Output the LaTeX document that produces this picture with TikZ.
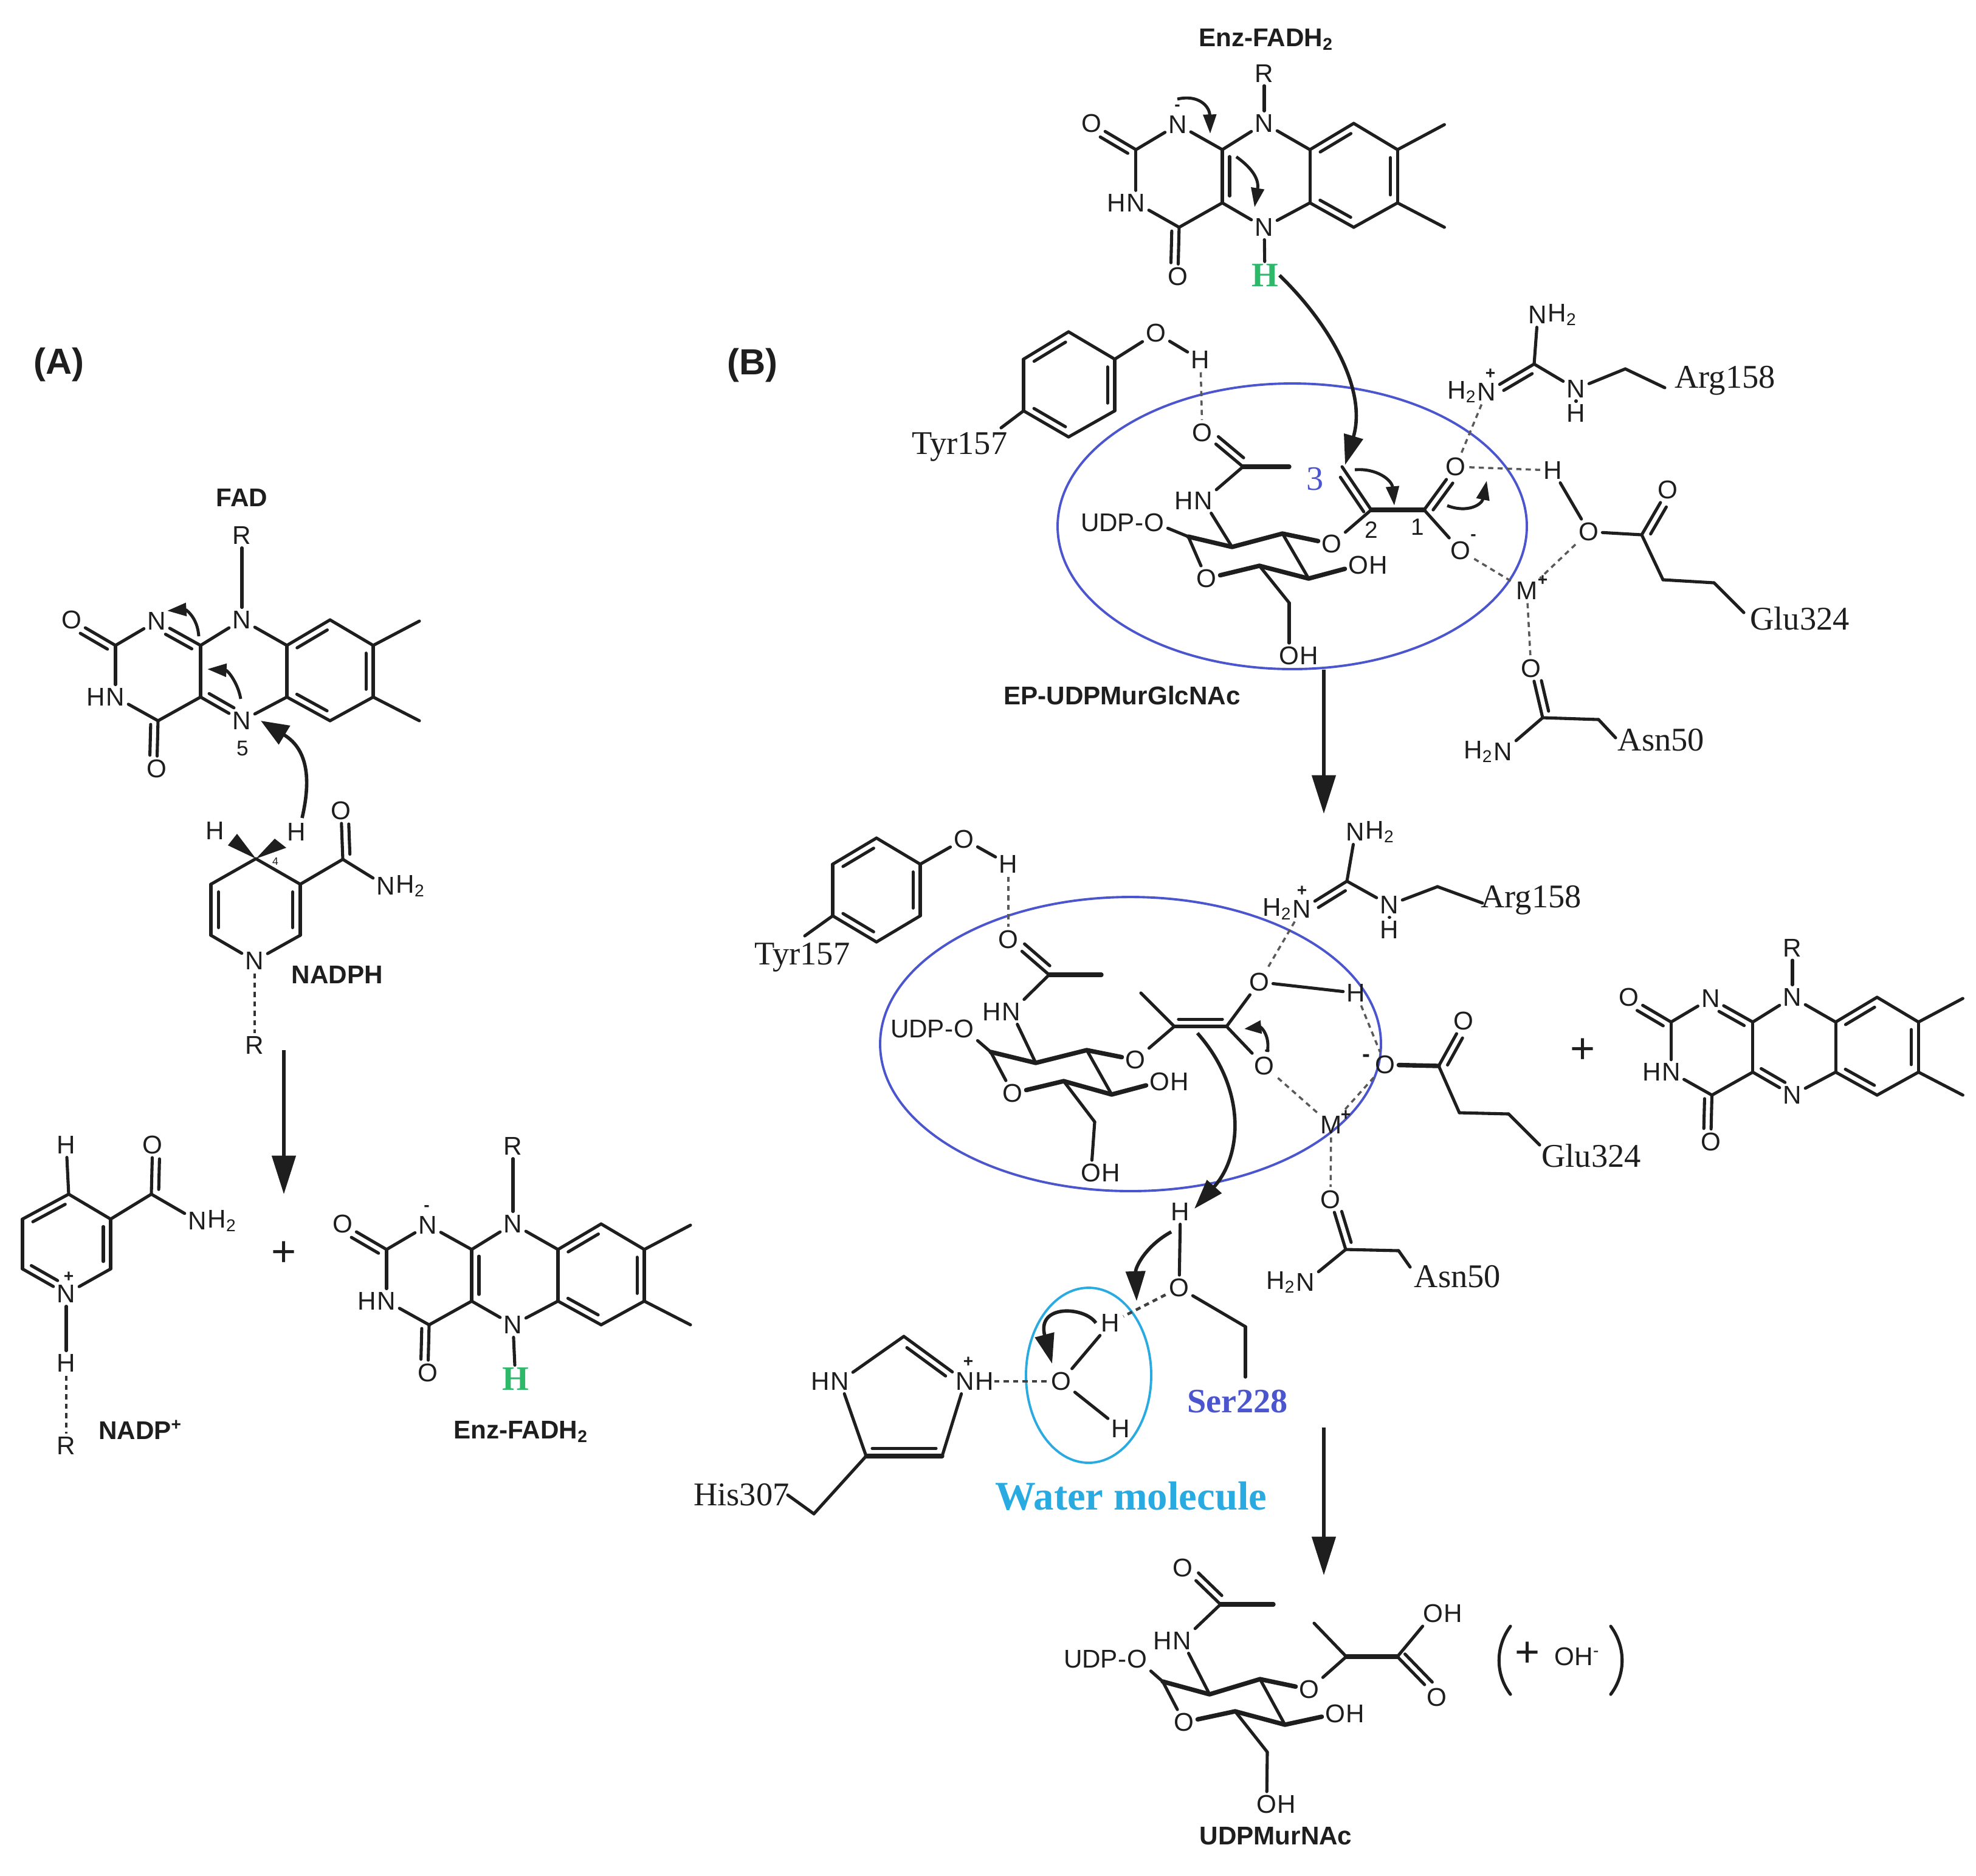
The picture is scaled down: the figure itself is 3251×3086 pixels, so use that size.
\documentclass[tikz,border=0pt]{standalone}
\usepackage{fontspec}
\usepackage{graphicx}
\setmainfont{Liberation Serif}
\setsansfont{Liberation Sans}
\usetikzlibrary{calc,arrows.meta}
\definecolor{inkc}{RGB}{30,30,30}
\definecolor{blueell}{RGB}{75,85,205}
\definecolor{cyanell}{RGB}{41,171,226}
\definecolor{greenh}{RGB}{45,185,105}
\tikzset{
  atom/.style={inner sep=1.5pt,text=inkc,font=\sffamily\fontsize{12}{12}\selectfont},
  side/.style={inner sep=0pt,text=inkc,font=\sffamily\fontsize{12}{12}\selectfont},
  chg/.style={inner sep=0pt,text=inkc,font=\sffamily\bfseries\fontsize{8}{8}\selectfont},
  tiny/.style={inner sep=0pt,text=inkc,font=\sffamily\fontsize{10}{10}\selectfont},
  lab/.style={inner sep=0pt,text=inkc,font=\sffamily\bfseries\fontsize{12}{12}\selectfont},
  panel/.style={inner sep=0pt,text=inkc,font=\sffamily\bfseries\fontsize{17}{17}\selectfont},
  res/.style={inner sep=1pt,text=inkc,font=\rmfamily\fontsize{15.5}{15.5}\selectfont},
  bond/.style={draw=inkc,line width=1.45pt,line cap=round},
  bondb/.style={draw=inkc,line width=2.1pt,line cap=round,line join=round},
  hb/.style={draw=black!65,line width=1pt,dash pattern=on 2.4pt off 2pt},
  ellb/.style={draw=blueell,line width=1.1pt},
  ellc/.style={draw=cyanell,line width=1.1pt},
  curlys/.style={draw=inkc,line width=1.4pt,-{Triangle[length=9pt,width=6pt]}},
  curlyb/.style={draw=inkc,line width=1.6pt,-{Triangle[length=14pt,width=9pt]}},
  mainar/.style={draw=inkc,line width=1.5pt,-{Triangle[length=18pt,width=11pt]}},
}
\newcommand{\Atm}[3]{\node[atom] (#1) at (#2) {#3};}
\newcommand{\Cpt}[2]{\coordinate (#1) at (#2);}
\newcommand{\AtmL}[3]{\node[side,anchor=east,xshift=1.5pt] (#1) at (#2.west) {#3};}
\newcommand{\AtmR}[3]{\node[side,anchor=west,xshift=-1.5pt] (#1) at (#2.east) {#3};}
\newcommand{\Dbl}[5]{\draw[bond] (#1) -- (#2);
  \draw[bond] ($(#1)!#4!(#2)!#3!90:(#2)$) -- ($(#1)!#5!(#2)!#3!90:(#2)$);}
\newcommand{\Bnd}[2]{\draw[bond] (#1) -- (#2);}
% flavin skeleton: prefix, x, y, xscale, yscale, R offset
\newcommand{\Flavin}[6]{%
 \begin{scope}[shift={(#2,#3)},xscale=#4,yscale=#5]
  \Atm{#1N10}{0,0}{N}\Atm{#1R}{0,#6}{R}\Atm{#1O2}{-280,0}{O}\Atm{#1N1}{-140,2}{N}
  \Atm{#1N3}{-208,127}{N}\Atm{#1O4}{-140,245}{O}\Atm{#1N5}{0,166}{N}
  \Cpt{#1C2}{-208,42}\Cpt{#1C10a}{-68,42}\Cpt{#1C4a}{-68,127}\Cpt{#1C4}{-138,166}
  \Cpt{#1C9a}{74,42}\Cpt{#1C5a}{74,127}\Cpt{#1C9}{145,0}\Cpt{#1C6}{145,166}
  \Cpt{#1C8}{216,42}\Cpt{#1C7}{216,127}\Cpt{#1Me8}{292,2}\Cpt{#1Me7}{292,166}
 \end{scope}
 \AtmL{#1H3}{#1N3}{H}
 \Bnd{#1N10}{#1R}\Bnd{#1N10}{#1C10a}\Bnd{#1N10}{#1C9a}\Bnd{#1C2}{#1N1}\Bnd{#1C2}{#1N3}
 \Bnd{#1N3}{#1C4}\Bnd{#1C4}{#1C4a}\Bnd{#1C9a}{#1C5a}\Bnd{#1C5a}{#1N5}
 \Bnd{#1C6}{#1C7}\Bnd{#1C8}{#1C9}\Bnd{#1C8}{#1Me8}\Bnd{#1C7}{#1Me7}
 \Dbl{#1C2}{#1O2}{3.4pt}{.1}{.72}\Dbl{#1C4}{#1O4}{-3.4pt}{.08}{.72}
 \Dbl{#1C9a}{#1C9}{-3.4pt}{.15}{.85}\Dbl{#1C8}{#1C7}{-3.4pt}{.15}{.85}\Dbl{#1C5a}{#1C6}{3.4pt}{.15}{.85}
}
\newcommand{\FlavOx}[1]{\Bnd{#1C10a}{#1C4a}\Dbl{#1C10a}{#1N1}{3.4pt}{.12}{.72}\Dbl{#1C4a}{#1N5}{3.4pt}{.12}{.72}}
\newcommand{\FlavRed}[1]{\Bnd{#1C10a}{#1N1}\Bnd{#1C4a}{#1N5}\Dbl{#1C10a}{#1C4a}{3.4pt}{.13}{.87}}
% sugar bonds
\newcommand{\Sugar}[1]{%
 \Bnd{#1UO}{#1C1}\Bnd{#1C1}{#1Or}\Bnd{#1C3}{#1C4}\Bnd{#1C5}{#1CH}\Bnd{#1CH}{#1O6}
 \draw[bondb] (#1C1) -- (#1C2) -- (#1C3) -- (#1Oe);
 \draw[bondb] (#1Or) -- (#1C5) -- (#1C4) -- (#1O4);
 \Bnd{#1Nh}{#1C2}\Bnd{#1Nh}{#1Cac}\draw[bondb] (#1Cac) -- (#1Mac);
 \Dbl{#1Cac}{#1Oac}{-3.4pt}{.1}{.72}}
\begin{document}
\begin{tikzpicture}[x=0.01cm,y=-0.01cm]
\useasboundingbox (0,0) rectangle (3251,3086);
\fill[white] (0,0) rectangle (3251,3086);
% ---------- Panel labels
\node[panel] (pA) at (97,600) {(A)};
\node[panel] (pB) at (1238,601) {(B)};
% ---------- A: FAD
\node[lab] (lFAD) at (398,819) {FAD};
\Flavin{a}{398}{1020}{1}{1}{-139}\FlavOx{a}
\node[tiny] (a5) at (399,1232) {5};
\Cpt{as1}{327,1047}\Cpt{ae1}{275,1005}
\draw[curlys] (as1) .. controls (325,1015) and (305,1003) .. (ae1);
\Cpt{as2}{396,1150}\Cpt{ae2}{341,1101}
\draw[curlys] (as2) .. controls (392,1125) and (375,1103) .. (ae2);
% ---------- A: NADPH
\Atm{nHl}{354,1367}{H}\Atm{nHr}{488,1369}{H}\Atm{nN}{419,1581}{N}\Atm{nO}{561,1334}{O}\Atm{nN2}{635,1458}{N}
\AtmR{nH2}{nN2}{H\textsubscript{2}}
\Cpt{nC4}{421,1413}\Cpt{nC3}{494,1455}\Cpt{nC2}{494,1539}\Cpt{nC6}{347,1539}\Cpt{nC5}{347,1455}\Cpt{nCa}{564,1414}
\node[tiny,font=\sffamily\fontsize{5}{5}\selectfont] (n4) at (453,1417) {4};
\fill[inkc] (nC4) -- (375,1391) -- (390,1372) -- cycle;
\fill[inkc] (nC4) -- (452,1380) -- (471,1395) -- cycle;
\Bnd{nC4}{nC3}\Bnd{nC4}{nC5}\Bnd{nC3}{nCa}\Bnd{nCa}{nN2}\Bnd{nC2}{nN}\Bnd{nC6}{nN}
\Dbl{nC5}{nC6}{3.6pt}{.15}{.85}\Dbl{nC3}{nC2}{-3.6pt}{.15}{.85}\Dbl{nCa}{nO}{-3.4pt}{.1}{.72}
\node[lab] (lNADPH) at (555,1604) {NADPH};
\Atm{nR}{419,1720}{R}
\draw[hb,black!80,line width=1.3pt] (nN) -- (nR);
\Cpt{as3}{497,1346}\Cpt{ae3}{429,1186}
\draw[draw=inkc,line width=1.6pt,-{Triangle[length=13pt,width=10pt]}] (as3) .. controls (510,1290) and (510,1235) .. (ae3);
% arrow + plus
\Cpt{am1}{467,1728}\Cpt{am2}{467,1965}
\draw[mainar] (am1) -- (am2);
\node[atom,font=\sffamily\fontsize{20}{20}\selectfont] (aplus) at (467,2063) {+};
% ---------- A: NADP+
\Atm{pH}{109,1884}{H}\Atm{pN}{109,2129}{N}\Atm{pHb}{109,2243}{H}\Atm{pRb}{109,2379}{R}\Atm{pO}{251,1884}{O}\Atm{pN2}{325,2009}{N}
\AtmR{pH2}{pN2}{H\textsubscript{2}}
\Cpt{pC4}{113,1965}\Cpt{pC3}{182,2006}\Cpt{pC2}{182,2088}\Cpt{pC6}{37,2088}\Cpt{pC5}{37,2006}\Cpt{pCa}{249,1965}
\node[chg] (pplus) at (113,2101) {+};
\Bnd{pH}{pC4}\Bnd{pC4}{pC3}\Bnd{pC5}{pC6}\Bnd{pC2}{pN}\Bnd{pC3}{pCa}\Bnd{pCa}{pN2}\Bnd{pN}{pHb}
\Dbl{pC4}{pC5}{3.4pt}{.15}{.85}\Dbl{pC3}{pC2}{-3.4pt}{.15}{.85}\Dbl{pC6}{pN}{3.4pt}{.12}{.72}\Dbl{pCa}{pO}{-3.4pt}{.1}{.72}
\draw[hb,black!80,line width=1.3pt] (pHb) -- (pRb);
\node[lab] (lNADP) at (231,2353) {NADP\textsuperscript{+}};
% ---------- A: Enz-FADH2
\Flavin{b}{844}{2014}{1}{1}{-128}\FlavRed{b}
\node[chg] (bm) at (702,1988) {-};
\node[res,text=greenh,font=\rmfamily\bfseries\fontsize{16}{16}\selectfont] (bH) at (848,2269) {H};
\Bnd{bN5}{bH}
\node[lab] (lEnzA) at (857,2356) {Enz-FADH\textsubscript{2}};
% ---------- B: top Enz-FADH2
\node[lab] (lEnzB) at (2083,65) {Enz-FADH\textsubscript{2}};
\Flavin{c}{2080}{203}{1.015}{1.03}{-80}\FlavRed{c}
\node[chg] (cm) at (1937,177) {-};
\node[res,text=greenh,font=\rmfamily\bfseries\fontsize{16}{16}\selectfont] (cH) at (2081,453) {H};
\Bnd{cN5}{cH}
\Cpt{cs1}{1937,163}\Cpt{ce1}{1991,220}
\draw[curlys] (cs1) .. controls (1972,155) and (1990,175) .. (ce1);
\Cpt{cs2}{2034,258}\Cpt{ce2}{2064,341}
\draw[curlys] (cs2) .. controls (2072,285) and (2070,305) .. (ce2);
% ---------- B: complex 1
\draw[ellb] (2126,866) ellipse [x radius=386,y radius=235];
\Cpt{t1}{1758,546}\Cpt{t2}{1834,591}\Cpt{t3}{1834,676}\Cpt{t4}{1758,719}\Cpt{t5}{1684,676}\Cpt{t6}{1684,591}\Cpt{t7}{1647,704}
\Atm{tO}{1902,548}{O}\Atm{tH}{1975,592}{H}
\node[res] (tL) at (1579,735) {Tyr157};
\Bnd{t1}{t2}\Bnd{t3}{t4}\Bnd{t5}{t6}\Bnd{t2}{tO}\Bnd{tO}{tH}\Bnd{t5}{t7}
\Dbl{t1}{t6}{3.4pt}{.15}{.85}\Dbl{t2}{t3}{-3.4pt}{.15}{.85}\Dbl{t5}{t4}{3.4pt}{.15}{.85}
% sugar 1
\Atm{dOac}{1978,712}{O}\Cpt{dCac}{2045,768}\Cpt{dMac}{2121,768}
\Atm{dNh}{1980,824}{N}\AtmL{dHh}{dNh}{H}
\Atm{dUO}{1899,860}{O}\AtmL{dU}{dUO}{UDP-}
\Cpt{dC1}{1955,883}\Cpt{dC2}{2027,900}\Cpt{dC3}{2110,878}\Cpt{dC4}{2153,952}\Cpt{dC5}{2072,931}\Cpt{dCH}{2121,992}
\Atm{dOe}{2191,895}{O}\Atm{dOr}{1985,952}{O}\Atm{dO4}{2235,930}{O}\AtmR{dH4}{dO4}{H}
\Atm{dO6}{2121,1079}{O}\AtmR{dH6}{dO6}{H}
\Sugar{d}
\draw[hb] (tH) -- (dOac);
\Cpt{dCb}{2256,839}\Cpt{dCc}{2343,839}\Cpt{dC33}{2208,768}
\Atm{dOt}{2395,768}{O}\Atm{dOm}{2403,906}{O}
\node[chg] (dm) at (2424,884) {-};
\Bnd{dOe}{dCb}\draw[bondb] (dCb) -- (dCc);\Bnd{dCc}{dOm}
\Dbl{dCb}{dC33}{3.4pt}{.05}{.85}\Dbl{dCc}{dOt}{-3.4pt}{.1}{.72}
\node[tiny,font=\sffamily\fontsize{11}{11}\selectfont] (d2) at (2256,872) {2};
\node[tiny,font=\sffamily\fontsize{11}{11}\selectfont] (d1) at (2332,867) {1};
\node[res,text=blueell,font=\rmfamily\fontsize{16}{16}\selectfont] (d3) at (2164,788) {3};
% guanidine 1
\Atm{gN2}{2530,518}{N}\AtmR{gH2}{gN2}{H\textsubscript{2}}
\Cpt{gC}{2524,599}\Atm{gNp}{2446,645}{N}\AtmL{gH2p}{gNp}{H\textsubscript{2}}
\node[chg] (gpl) at (2452,615) {+};
\Atm{gNh}{2593,640}{N}\Atm{gHh}{2593,680}{H}\Cpt{gCH}{2674,607}\Cpt{gE}{2739,638}
\Bnd{gN2}{gC}\Bnd{gC}{gNh}\Bnd{gNh}{gCH}\Bnd{gCH}{gE}\Bnd{gNh}{gHh}
\Dbl{gC}{gNp}{3.4pt}{.12}{.72}
\node[res] (gL) at (2838,626) {Arg158};
\draw[hb] (gNp) -- (dOt);
% Glu 1
\Atm{eH}{2555,774}{H}\Atm{eO}{2614,875}{O}\Cpt{eC}{2701,880}\Atm{eOd}{2744,806}{O}
\Cpt{eC2}{2736,954}\Cpt{eC3}{2820,959}\Cpt{eE}{2869,1008}
\Bnd{eH}{eO}\Bnd{eO}{eC}\Bnd{eC}{eC2}\Bnd{eC2}{eC3}\Bnd{eC3}{eE}
\Dbl{eC}{eOd}{-3.4pt}{.1}{.7}
\node[res] (eL) at (2961,1018) {Glu324};
\draw[hb] (dOt) -- (eH);
% metal 1
\Atm{mM}{2512,972}{M}\node[chg] (mp) at (2538,955) {+};
\draw[hb] (dOm) -- (mM);\draw[hb] (eO) -- (mM);
\Atm{nsO}{2519,1100}{O}\Cpt{nsC}{2538,1181}\Cpt{nsCH}{2630,1184}\Cpt{nsE}{2658,1214}
\Atm{nsN}{2473,1237}{N}\AtmL{nsH}{nsN}{H\textsubscript{2}}
\draw[hb] (mM) -- (nsO);
\Bnd{nsC}{nsCH}\Bnd{nsCH}{nsE}\Bnd{nsC}{nsN}\Dbl{nsC}{nsO}{-3.4pt}{.1}{.72}
\node[res] (nsL) at (2733,1218) {Asn50};
% arrows B1
\Cpt{hs}{2105,453}\Cpt{he}{2213,765}
\draw[curlyb] (hs) .. controls (2185,530) and (2250,640) .. (he);
\Cpt{k1s}{2229,773}\Cpt{k1e}{2294,832}
\draw[curlys] (k1s) .. controls (2265,770) and (2290,790) .. (k1e);
\Cpt{k2s}{2381,832}\Cpt{k2e}{2446,791}
\draw[curlys] (k2s) .. controls (2415,845) and (2438,830) .. (k2e);
\node[lab] (lEP) at (1846,1144) {EP-UDPMurGlcNAc};
\Cpt{mas}{2178,1102}\Cpt{mae}{2178,1339}
\draw[mainar] (mas) -- (mae);
% ---------- B: complex 2
\draw[ellb] (1860,1718) ellipse [x radius=412,y radius=242];
\Cpt{u1}{1442,1379}\Cpt{u2}{1514,1422}\Cpt{u3}{1514,1507}\Cpt{u4}{1442,1550}\Cpt{u5}{1370,1507}\Cpt{u6}{1370,1422}\Cpt{u7}{1324,1540}
\Atm{uO}{1586,1381}{O}\Atm{uH}{1659,1422}{H}
\node[res] (uL) at (1320,1575) {Tyr157};
\Bnd{u1}{u2}\Bnd{u3}{u4}\Bnd{u5}{u6}\Bnd{u2}{uO}\Bnd{uO}{uH}\Bnd{u5}{u7}
\Dbl{u1}{u6}{3.4pt}{.15}{.85}\Dbl{u2}{u3}{-3.4pt}{.15}{.85}\Dbl{u5}{u4}{3.4pt}{.15}{.85}
\Atm{vOac}{1659,1546}{O}\Cpt{vCac}{1726,1604}\Cpt{vMac}{1812,1604}
\Atm{vNh}{1664,1665}{N}\AtmL{vHh}{vNh}{H}
\Atm{vUO}{1586,1693}{O}\AtmL{vU}{vUO}{UDP-}
\Cpt{vC1}{1630,1731}\Cpt{vC2}{1704,1749}\Cpt{vC3}{1788,1728}\Cpt{vC4}{1829,1801}\Cpt{vC5}{1750,1779}\Cpt{vCH}{1801,1846}
\Atm{vOe}{1868,1744}{O}\Atm{vOr}{1666,1799}{O}\Atm{vO4}{1908,1780}{O}\AtmR{vH4}{vO4}{H}
\Atm{vO6}{1795,1930}{O}\AtmR{vH6}{vO6}{H}
\Sugar{v}
\draw[hb] (uH) -- (vOac);
\Cpt{vCb}{1932,1689}\Cpt{vCc}{2018,1689}\Cpt{vMe}{1877,1634}
\Atm{vOt}{2072,1616}{O}\Atm{vOm}{2080,1754}{O}\Atm{vHt}{2231,1634}{H}
\node[chg] (vm) at (2085,1732) {-};
\Bnd{vOe}{vCb}\Bnd{vCb}{vMe}\Bnd{vCc}{vOt}\Bnd{vCc}{vOm}\Bnd{vOt}{vHt}
\Dbl{vCb}{vCc}{3.4pt}{.08}{.92}
% guanidine 2
\Atm{wN2}{2230,1369}{N}\AtmR{wH2}{wN2}{H\textsubscript{2}}
\Cpt{wC}{2216,1450}\Atm{wNp}{2142,1496}{N}\AtmL{wH2p}{wNp}{H\textsubscript{2}}
\node[chg] (wpl) at (2142,1466) {+};
\Atm{wNh}{2286,1489}{N}\Atm{wHh}{2286,1530}{H}\Cpt{wCH}{2365,1459}\Cpt{wE}{2439,1486}
\Bnd{wN2}{wC}\Bnd{wC}{wNh}\Bnd{wNh}{wCH}\Bnd{wCH}{wE}\Bnd{wNh}{wHh}
\Dbl{wC}{wNp}{3.4pt}{.12}{.72}
\node[res] (wL) at (2519,1481) {Arg158};
\draw[hb] (wNp) -- (vOt);
% Glu 2
\Atm{xO}{2279,1752}{O}\node[chg,font=\sffamily\bfseries\fontsize{11}{11}\selectfont] (xm) at (2248,1741) {-};
\Cpt{xC}{2367,1754}\Atm{xOd}{2408,1680}{O}\Cpt{xC2}{2401,1831}\Cpt{xC3}{2482,1833}\Cpt{xE}{2533,1884}
\draw[bondb] (xO) -- (xC);\Bnd{xC}{xC2}\Bnd{xC2}{xC3}\Bnd{xC3}{xE}
\Dbl{xC}{xOd}{-3.4pt}{.1}{.7}
\node[res] (xL) at (2618,1902) {Glu324};
\draw[hb] (vHt) -- (xO);
% metal 2
\Atm{yM}{2190,1851}{M}\node[chg] (yp) at (2214,1835) {+};
\draw[hb] (vOm) -- (yM);\draw[hb] (xO) -- (yM);
\Atm{zO}{2189,1974}{O}\Cpt{zC}{2214,2056}\Cpt{zCH}{2301,2058}\Cpt{zE}{2320,2085}
\Atm{zN}{2148,2110}{N}\AtmL{zH}{zN}{H\textsubscript{2}}
\draw[hb] (yM) -- (zO);
\Bnd{zC}{zCH}\Bnd{zCH}{zE}\Bnd{zC}{zN}\Dbl{zC}{zO}{-3.4pt}{.1}{.72}
\node[res] (zL) at (2398,2101) {Asn50};
% Ser
\Atm{sH}{1942,1994}{H}\Atm{sO}{1940,2119}{O}\Cpt{sCH}{2049,2183}\Cpt{sE}{2049,2266}
\Bnd{sH}{sO}\Bnd{sO}{sCH}\Bnd{sCH}{sE}
\node[res,text=blueell,font=\rmfamily\bfseries\fontsize{16}{16}\selectfont] (sL) at (2036,2306) {Ser228};
% Water
\draw[ellc] (1791,2263) ellipse [x radius=103,y radius=144];
\Atm{oO}{1746,2273}{O}\Atm{oH1}{1827,2177}{H}\Atm{oH2}{1844,2351}{H}
\Bnd{oO}{oH1}\Bnd{oO}{oH2}
\draw[hb,black!75,line width=1.3pt] (sO) -- (oH1);
\node[res,text=cyanell,font=\rmfamily\bfseries\fontsize{19}{19}\selectfont] (oL) at (1861,2462) {Water molecule};
% His
\Atm{iN1}{1588,2273}{N}\AtmR{iH1}{iN1}{H}\node[chg] (ipl) at (1593,2241) {+};
\Atm{iN2}{1382,2273}{N}\AtmL{iH2}{iN2}{H}
\Cpt{iC1}{1487,2199}\Cpt{iC2}{1550,2396}\Cpt{iC3}{1425,2396}\Cpt{iCH}{1339,2491}\Cpt{iE}{1296,2460}
\Bnd{iN2}{iC1}\Bnd{iN1}{iC2}\Bnd{iN2}{iC3}\Bnd{iC3}{iCH}\Bnd{iCH}{iE}
\Dbl{iC1}{iN1}{-3.4pt}{.12}{.75}\draw[bondb] (iC3) -- (iC2);
\draw[bond] ($(iC3)!.08!(iC2)!3.6pt!90:(iC2)$) -- ($(iC3)!.92!(iC2)!3.6pt!90:(iC2)$);
\node[res] (iL) at (1220,2460) {His307};
\draw[hb,black!75,line width=1.3pt] (iH1) -- (oO);
% arrows B2
\Cpt{rs1}{1970,1700}\Cpt{re1}{1965,1989}
\draw[curlyb] (rs1) .. controls (2050,1790) and (2045,1900) .. (re1);
\Cpt{rs2}{2085,1731}\Cpt{re2}{2047,1693}
\draw[draw=inkc,line width=1.4pt,-{Triangle[length=8pt,width=6pt]}] (rs2) .. controls (2090,1705) and (2075,1690) .. (re2);
\Cpt{rs3}{1927,2027}\Cpt{re3}{1870,2141}
\draw[curlyb] (rs3) .. controls (1885,2050) and (1868,2085) .. (re3);
\Cpt{rs4}{1803,2177}\Cpt{re4}{1731,2244}
\draw[curlyb] (rs4) .. controls (1785,2150) and (1705,2145) .. (re4);
\Cpt{mbs}{2178,2349}\Cpt{mbe}{2178,2592}
\draw[mainar] (mbs) -- (mbe);
% plus, flavin ox
\node[atom,font=\sffamily\fontsize{20}{20}\selectfont] (bplus) at (2604,1729) {+};
\Flavin{f}{2949}{1641}{.96}{.97}{-84}\FlavOx{f}
% ---------- B: product
\Atm{qOac}{1946,2580}{O}\Cpt{qCac}{2008,2640}\Cpt{qMac}{2095,2640}
\Atm{qNh}{1945,2700}{N}\AtmL{qHh}{qNh}{H}
\Atm{qUO}{1871,2730}{O}\AtmL{qU}{qUO}{UDP-}
\Cpt{qC1}{1913,2767}\Cpt{qC2}{1990,2788}\Cpt{qC3}{2073,2763}\Cpt{qC4}{2114,2838}\Cpt{qC5}{2032,2816}\Cpt{qCH}{2085,2883}
\Atm{qOe}{2154,2780}{O}\Atm{qOr}{1948,2834}{O}\Atm{qO4}{2197,2820}{O}\AtmR{qH4}{qO4}{H}
\Atm{qO6}{2084,2969}{O}\AtmR{qH6}{qO6}{H}
\Sugar{q}
\Cpt{qCb}{2215,2726}\Cpt{qCc}{2299,2726}\Cpt{qMe}{2162,2671}
\Atm{qOH}{2358,2655}{O}\AtmR{qHH}{qOH}{H}\Atm{qOd}{2364,2793}{O}
\Bnd{qOe}{qCb}\Bnd{qCb}{qMe}\draw[bondb] (qCb) -- (qCc);\Bnd{qCc}{qOH}
\Dbl{qCc}{qOd}{3.4pt}{.06}{.75}
\node[lab] (lMur) at (2099,3021) {UDPMurNAc};
\Cpt{pl1}{2485,2676}\Cpt{pl2}{2485,2788}\Cpt{pr1}{2650,2676}\Cpt{pr2}{2650,2788}
\draw[bond] (pl1) .. controls (2460,2710) and (2460,2755) .. (pl2);
\draw[bond] (pr1) .. controls (2675,2710) and (2675,2755) .. (pr2);
\node[atom,font=\sffamily\fontsize{20}{20}\selectfont] (qplus) at (2513,2722) {+};
\node[atom] (qOHm) at (2595,2726) {OH\textsuperscript{-}};
\end{tikzpicture}
\end{document}
